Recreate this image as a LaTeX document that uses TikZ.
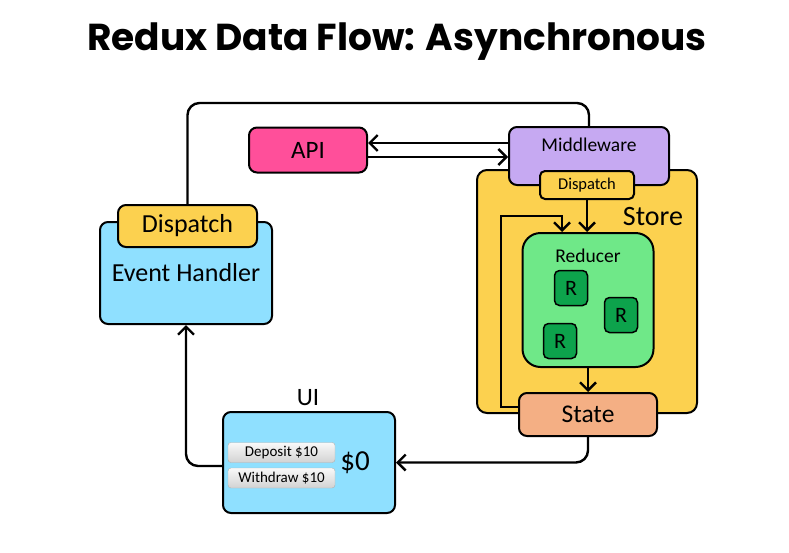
\documentclass[tikz,border=0pt]{standalone}
\usepackage{fontspec}
\setmainfont{Carlito}
\newfontfamily\titlefont{Poppins}
\usetikzlibrary{arrows.meta}
\definecolor{apipink}{HTML}{FF4F9A}
\definecolor{mwpurple}{HTML}{C6A9F2}
\definecolor{gold}{HTML}{FCD14F}
\definecolor{ehblue}{HTML}{8FE0FF}
\definecolor{redgreen}{HTML}{6FE888}
\definecolor{rgreen}{HTML}{0DA34C}
\definecolor{stateorange}{HTML}{F4AF84}
\begin{document}
\begin{tikzpicture}[x=1pt,y=-1pt]
\tikzstyle{box}=[rectangle, draw, line width=2pt, rounded corners=8pt, inner sep=0pt]
\tikzstyle{flow}=[line width=2.4pt, rounded corners=12pt, -{Straight Barb[length=8pt,width=16pt]}]
\tikzstyle{button}=[rectangle, draw=gray!60, rounded corners=3pt, top color=gray!5, bottom color=gray!35,
    minimum width = 107pt, minimum height = 20pt, inner sep=0pt, font=\fontsize{15}{17}\selectfont]
\tikzstyle{rbox}=[box, line width=1.5pt, rounded corners=5pt, fill=rgreen, minimum width = 33pt,
    minimum height = 35pt, font=\fontsize{22}{24}\selectfont]

\useasboundingbox (0,0) rectangle (789,552);

\node[font=\titlefont\bfseries\fontsize{37.5}{44}\selectfont] (title) at (397,42) {Redux Data Flow: Asynchronous};

    \node[box, fill=gold, rounded corners=10pt, minimum width = 220pt,
    minimum height = 243pt] (store) at (587,291.5) {};
 \node[font=\fontsize{28}{30}\selectfont] (storet) at (653,217) {Store};

    \node[box, fill=mwpurple, minimum width = 160pt,
    minimum height = 58pt] (mw) at (589,156) {};
 \node[font=\fontsize{19.5}{22}\selectfont] (mwt) at (589,145) {Middleware};
    \node[box, fill=gold, rounded corners=5pt, minimum width = 94pt,
    minimum height = 28pt, font=\fontsize{16.5}{18}\selectfont] (dsp) at (587,185) {Dispatch};

    \node[box, fill=apipink, minimum width = 118pt,
    minimum height = 45pt, font=\fontsize{25}{28}\selectfont] (api) at (308,150) {API};

    \node[box, fill=redgreen, rounded corners=18pt, minimum width = 131pt,
    minimum height = 134pt] (red) at (588,300) {};
 \node[font=\fontsize{19.5}{22}\selectfont] (redt) at (588,256) {Reducer};
 \node[rbox] (r1) at (571,288) {R};
 \node[rbox] (r2) at (621,315) {R};
 \node[rbox] (r3) at (560,341) {R};

    \node[box, fill=stateorange, minimum width = 138pt,
    minimum height = 43pt, font=\fontsize{25.5}{28}\selectfont] (state) at (588,414.5) {State};

    \node[box, fill=ehblue, minimum width = 172pt,
    minimum height = 102pt, font=\fontsize{26}{28}\selectfont] (ev) at (186,273) {Event Handler};
    \node[box, fill=gold, minimum width = 139pt,
    minimum height = 42pt, font=\fontsize{26}{28}\selectfont] (evd) at (187.5,226) {Dispatch};

    \node[box, fill=ehblue, minimum width = 172pt,
    minimum height = 101pt] (ui) at (309,462.5) {};
 \node[font=\fontsize{25}{28}\selectfont] (uit) at (308,398) {UI};
 \node[button] (dep) at (281.5,452.5) {Deposit \$10};
 \node[button] (wd) at (281.5,478) {Withdraw \$10};
 \node[font=\fontsize{29}{32}\selectfont] (bal) at (355,463) {\$0};

\coordinate (top) at (589,103);
\draw[line width=2.4pt, rounded corners=12pt] (evd.north) |- (top) -- (mw.north);
\draw[flow] (mw.west |- 0,143) -- (api.east |- 0,143);
\draw[flow] (api.east |- 0,157) -- (mw.west |- 0,157);
\draw[flow] (dsp.south) -- (dsp.south |- red.north);
\draw[flow] (red.south) -- (state.north);
\coordinate (lp) at (501,216);
\draw[flow, rounded corners=0pt] (state.west |- 0,407) -| (lp) -| (red.north -| 562,0);
\draw[flow] (state.south) |- (ui.east);
\draw[flow] (ui.west |- 0,466) -| (ev.south);

\end{tikzpicture}
\end{document}
